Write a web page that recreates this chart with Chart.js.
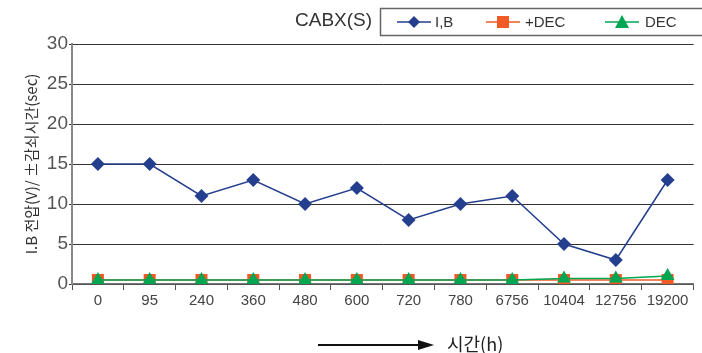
<!DOCTYPE html>
<html><head><meta charset="utf-8">
<script src="https://cdn.jsdelivr.net/npm/chart.js@4/dist/chart.umd.min.js"></script>
<style>html,body{margin:0;padding:0;background:#fff;}#wrap{width:702px;height:353px;position:relative;}</style>
</head><body><div id="wrap"><canvas id="c" width="702" height="353"></canvas></div>
<script>
const categories = ['0','95','240','360','480','600','720','780','6756','10404','12756','19200'];
const ibValues  = [15,15,11,13,10,12,8,10,11,5,3,13];
const pdecValues = [0.5,0.5,0.5,0.5,0.5,0.5,0.5,0.5,0.5,0.5,0.5,0.5];
const decValues  = [0.5,0.5,0.5,0.5,0.5,0.5,0.5,0.5,0.5,0.7,0.7,1.0];
const yTicks = [0,5,10,15,20,25,30];
const seriesNames = ['I,B','+DEC','DEC'];
const chartTitle = 'CABX(S)';
const yTitle = 'I.B 전압(V)/ ±감쇠시간(sec)';
const xTitle = '시간(h)';

const BLUE='#253f8f', ORANGE='#f15a24', GREEN='#00a651';
const numFont = "'Liberation Sans', Arial, sans-serif";
const krFont = "'Noto Sans CJK KR', sans-serif";

const overlay = {
  id:'overlay',
  afterDraw(chart){
    const ctx = chart.ctx;
    ctx.save();
    ctx.fillStyle='#333';
    ctx.font = "19px " + numFont;
    ctx.textBaseline='middle'; ctx.textAlign='left';
    ctx.fillText(chartTitle, 295, 21);
    ctx.strokeStyle='#666'; ctx.lineWidth=1.5;
    ctx.strokeRect(380.5, 8.5, 330, 27);
    const items = [
      {x:397, color:BLUE, style:'rectRot', text:seriesNames[0], tx:435},
      {x:486, color:ORANGE, style:'rect', text:seriesNames[1], tx:525},
      {x:605, color:GREEN, style:'triangle', text:seriesNames[2], tx:645}
    ];
    items.forEach(it=>{
      ctx.strokeStyle=it.color; ctx.lineWidth=1.5;
      ctx.beginPath(); ctx.moveTo(it.x,22); ctx.lineTo(it.x+34,22); ctx.stroke();
      ctx.fillStyle=it.color;
      ctx.beginPath();
      const cx=it.x+17, cy=22;
      if(it.style==='rectRot'){ctx.moveTo(cx,cy-6);ctx.lineTo(cx+6,cy);ctx.lineTo(cx,cy+6);ctx.lineTo(cx-6,cy);}
      else if(it.style==='rect'){ctx.rect(cx-6,cy-6,12,12);}
      else {ctx.moveTo(cx,cy-7);ctx.lineTo(cx+7,cy+6);ctx.lineTo(cx-7,cy+6);}
      ctx.closePath(); ctx.fill();
      ctx.fillStyle='#333';
      ctx.font = "15px " + numFont;
      ctx.fillText(it.text, it.tx, 23);
    });
    ctx.strokeStyle='#111'; ctx.lineWidth=2;
    ctx.beginPath(); ctx.moveTo(318,345); ctx.lineTo(420,345); ctx.stroke();
    ctx.fillStyle='#111';
    ctx.beginPath(); ctx.moveTo(434,345); ctx.lineTo(418,340); ctx.lineTo(418,350); ctx.closePath(); ctx.fill();
    ctx.fillStyle='#222';
    ctx.font = "18px " + krFont;
    ctx.fillText(xTitle, 447, 344);
    ctx.restore();
  }
};

new Chart(document.getElementById('c'), {
  type:'line',
  data:{
    labels:categories,
    datasets:[
      {label:seriesNames[0], data:ibValues, borderColor:BLUE, backgroundColor:BLUE, borderWidth:1.5, pointStyle:'rectRot', pointRadius:7, pointBorderWidth:0, tension:0},
      {label:seriesNames[2], data:decValues, borderColor:GREEN, backgroundColor:GREEN, borderWidth:1.5, pointStyle:'triangle', pointRadius:8, pointBorderWidth:0, tension:0},
      {label:seriesNames[1], data:pdecValues, borderColor:ORANGE, backgroundColor:ORANGE, borderWidth:1.5, pointStyle:'rect', pointRadius:8.5, pointBorderWidth:0, tension:0}
    ]
  },
  options:{
    responsive:false, animation:false, devicePixelRatio:1,
    layout:{padding:{top:44,left:0,right:0,bottom:0}},
    plugins:{legend:{display:false}, tooltip:{enabled:false}, title:{display:false}},
    scales:{
      x:{
        offset:true,
        grid:{display:true, drawOnChartArea:false, drawTicks:true, tickLength:6, color:'#555', offset:true},
        border:{display:true, color:'#777', width:1.5},
        ticks:{font:{family:numFont,size:15}, color:'#444', padding:2, maxRotation:0, autoSkip:false},
        afterFit(s){ s.height = 69; }
      },
      y:{
        min:0, max:30,
        afterBuildTicks(s){ s.ticks = yTicks.map(v=>({value:v})); },
        grid:{color:'#333', lineWidth:1, drawTicks:true, tickLength:3},
        border:{display:true, color:'#888', width:2},
        ticks:{font:{family:numFont,size:19}, color:'#555', padding:1},
        title:{display:true, text:yTitle, font:{family:krFont,size:15}, color:'#333', padding:{top:22,bottom:0}},
        afterFit(s){ s.width = 72; }
      }
    }
  },
  plugins:[overlay]
});
</script></body></html>
